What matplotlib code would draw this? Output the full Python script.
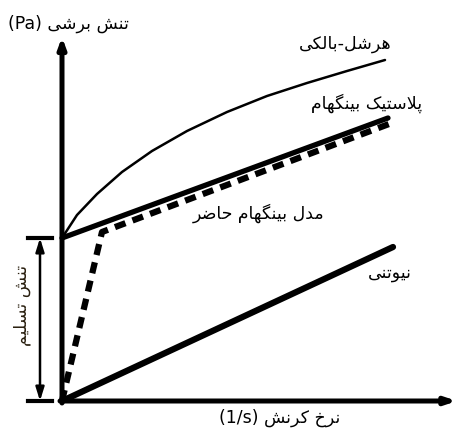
import matplotlib
matplotlib.use("Agg")
import matplotlib.pyplot as plt

# ---------------- data (schematic) ----------------
yield_stress = 163
hb_x = [0, 15, 35, 60, 90, 125, 165, 205, 245, 285, 323]
hb_y = [163, 186, 207, 229, 250, 270, 289, 305, 318, 330, 341]
bingham_x = [0, 326]
bingham_y = [163, 283]
current_x = [0, 40, 327]
current_y = [0, 169, 277]
newton_x = [0, 331]
newton_y = [0, 154]

lbl_hb = "هرشل-بالکی"
lbl_bingham = "پلاستیک بینگهام"
lbl_current = "مدل بینگهام حاضر"
lbl_newton = "نیوتنی"
lbl_yield = "تنش تسلیم"
lbl_y = "تنش برشی"
lbl_x = "نرخ کرنش"

# ---------------- simple Persian shaping ----------------
FORMS = {
    'ا': ('\uFE8D', '\uFE8E', None, None),
    'ب': ('\uFE8F', '\uFE90', '\uFE91', '\uFE92'),
    'پ': ('\uFB56', '\uFB57', '\uFB58', '\uFB59'),
    'ت': ('\uFE95', '\uFE96', '\uFE97', '\uFE98'),
    'ح': ('\uFEA1', '\uFEA2', '\uFEA3', '\uFEA4'),
    'خ': ('\uFEA5', '\uFEA6', '\uFEA7', '\uFEA8'),
    'د': ('\uFEA9', '\uFEAA', None, None),
    'ر': ('\uFEAD', '\uFEAE', None, None),
    'ز': ('\uFEAF', '\uFEB0', None, None),
    'س': ('\uFEB1', '\uFEB2', '\uFEB3', '\uFEB4'),
    'ش': ('\uFEB5', '\uFEB6', '\uFEB7', '\uFEB8'),
    'ض': ('\uFEBD', '\uFEBE', '\uFEBF', '\uFEC0'),
    'ل': ('\uFEDD', '\uFEDE', '\uFEDF', '\uFEE0'),
    'م': ('\uFEE1', '\uFEE2', '\uFEE3', '\uFEE4'),
    'ن': ('\uFEE5', '\uFEE6', '\uFEE7', '\uFEE8'),
    'ه': ('\uFEE9', '\uFEEA', '\uFEEB', '\uFEEC'),
    'و': ('\uFEED', '\uFEEE', None, None),
    'ی': ('\uFBFC', '\uFBFD', '\uFBFE', '\uFBFF'),
    'ک': ('\uFB8E', '\uFB8F', '\uFB90', '\uFB91'),
    'گ': ('\uFB92', '\uFB93', '\uFB94', '\uFB95'),
}


def dual(c):
    return c in FORMS and FORMS[c][2] is not None


def shape(s):
    out = []
    i = 0
    n = len(s)
    while i < n:
        c = s[i]
        prev = s[i - 1] if i > 0 else ''
        if c not in FORMS:
            out.append(c)
            i += 1
            continue
        jp = dual(prev)
        if c == 'ل' and i + 1 < n and s[i + 1] == 'ا':
            out.append('\uFEFC' if jp else '\uFEFB')
            i += 2
            continue
        nxt = s[i + 1] if i + 1 < n else ''
        jn = dual(c) and nxt in FORMS
        iso, fin, ini, med = FORMS[c]
        if jp and jn:
            out.append(med)
        elif jp:
            out.append(fin)
        elif jn:
            out.append(ini)
        else:
            out.append(iso)
        i += 1
    return ''.join(out)


def vis(s):
    return shape(s)[::-1]


plt.rcParams['font.family'] = ['DejaVu Sans']

fig = plt.figure(figsize=(4.57, 4.34), dpi=100)
ax = fig.add_axes([0, 0, 1, 1])
ax.set_xlim(-62, 395)
ax.set_ylim(-33, 401)
ax.axis('off')

# axes with arrows
ax.annotate('', xy=(0, 364), xytext=(0, -2),
            arrowprops=dict(arrowstyle='-|>,head_length=0.6,head_width=0.22',
                            lw=3.6, color='black', shrinkA=0, shrinkB=0))
ax.annotate('', xy=(395, 0), xytext=(-2, 0),
            arrowprops=dict(arrowstyle='-|>,head_length=0.6,head_width=0.2',
                            lw=3.6, color='black', shrinkA=0, shrinkB=0))

# curves
ax.plot(hb_x, hb_y, color='black', lw=1.8, solid_capstyle='round')
ax.plot(bingham_x, bingham_y, color='black', lw=3.8, solid_capstyle='round')
ln, = ax.plot(current_x, current_y, color='black', lw=4.5)
ln.set_dashes([1.8, 1.2])
ax.plot(newton_x, newton_y, color='black', lw=4.5, solid_capstyle='round')

# yield stress dimension arrow
ax.annotate('', xy=(-22, yield_stress), xytext=(-22, 0),
            arrowprops=dict(arrowstyle='<|-|>,head_length=0.8,head_width=0.25',
                            lw=1.8, color='black', shrinkA=0, shrinkB=0))
ax.plot([-34, -10], [yield_stress, yield_stress], color='black', lw=3)
ax.plot([-34, -10], [0, 0], color='black', lw=3)

# labels
ax.text(283, 357, vis(lbl_hb), fontsize=12.5, ha='center', va='center')
ax.text(305, 298, vis(lbl_bingham), fontsize=12.5, ha='center', va='center')
ax.text(197, 188, vis(lbl_current), fontsize=12.5, ha='center', va='center')
ax.text(328, 128, vis(lbl_newton), fontsize=12.5, ha='center', va='center')
ax.text(-40, 96, vis(lbl_yield), fontsize=12.5, ha='center', va='center',
        rotation=90, color='#2a2010')
ax.text(6, 377, '(Pa) ' + vis(lbl_y), fontsize=12.5, ha='center', va='center')
ax.text(218, -17, '(1/s) ' + vis(lbl_x), fontsize=12.5, ha='center', va='center')

fig.savefig('out.png', dpi=100)
